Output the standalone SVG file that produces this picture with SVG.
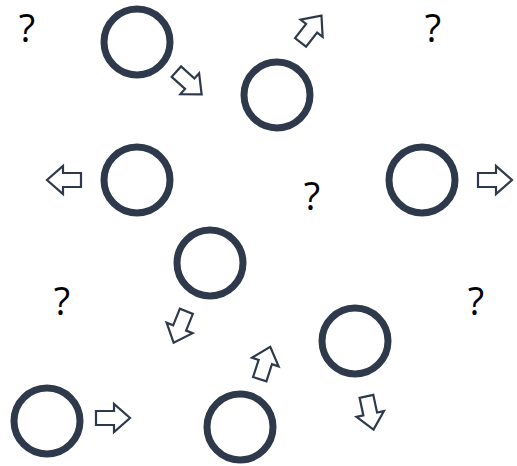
<svg xmlns="http://www.w3.org/2000/svg" width="517" height="466" viewBox="0 0 517 466">
<defs>
<style>
.c{fill:none;stroke:#2e394b;stroke-width:7}
.a{fill:#fff;stroke:#2e394b;stroke-width:2.2;stroke-linejoin:miter}
.q{font-family:"Open Sans","Noto Sans",sans-serif;font-size:38px;fill:#000;text-anchor:middle}
</style>
<path id="arr" d="M-17,-7 L1,-7 L1,-14 L17,0 L1,14 L1,7 L-17,7 Z"/>
</defs>
<rect width="517" height="466" fill="#fff"/>
<g id="node1"><circle class="c" cx="137" cy="42" r="33"/></g>
<g id="node2"><circle class="c" cx="277" cy="95" r="33"/></g>
<g id="node3"><circle class="c" cx="137" cy="180" r="33"/></g>
<g id="node4"><circle class="c" cx="422" cy="180" r="33"/></g>
<g id="node5"><circle class="c" cx="210" cy="263" r="33"/></g>
<g id="node6"><circle class="c" cx="355" cy="341" r="33"/></g>
<g id="node7"><circle class="c" cx="47" cy="421" r="33"/></g>
<g id="node8"><circle class="c" cx="240" cy="427" r="33"/></g>
<g id="connectors">
<use href="#arr" class="a" transform="translate(189,83) rotate(42)"/>
<use href="#arr" class="a" transform="translate(311,29) rotate(-52)"/>
<use href="#arr" class="a" transform="translate(64,180) rotate(180)"/>
<use href="#arr" class="a" transform="translate(495,180)"/>
<use href="#arr" class="a" transform="translate(180,327) rotate(112)"/>
<use href="#arr" class="a" transform="translate(265,363) rotate(-72)"/>
<use href="#arr" class="a" transform="translate(370,413) rotate(78)"/>
<use href="#arr" class="a" transform="translate(113,418)"/>
</g>
<g id="labels">
<text class="q" x="27" y="42">?</text>
<text class="q" x="433" y="42">?</text>
<text class="q" x="312" y="210">?</text>
<text class="q" x="62" y="315">?</text>
<text class="q" x="476" y="315">?</text>
</g>
</svg>
